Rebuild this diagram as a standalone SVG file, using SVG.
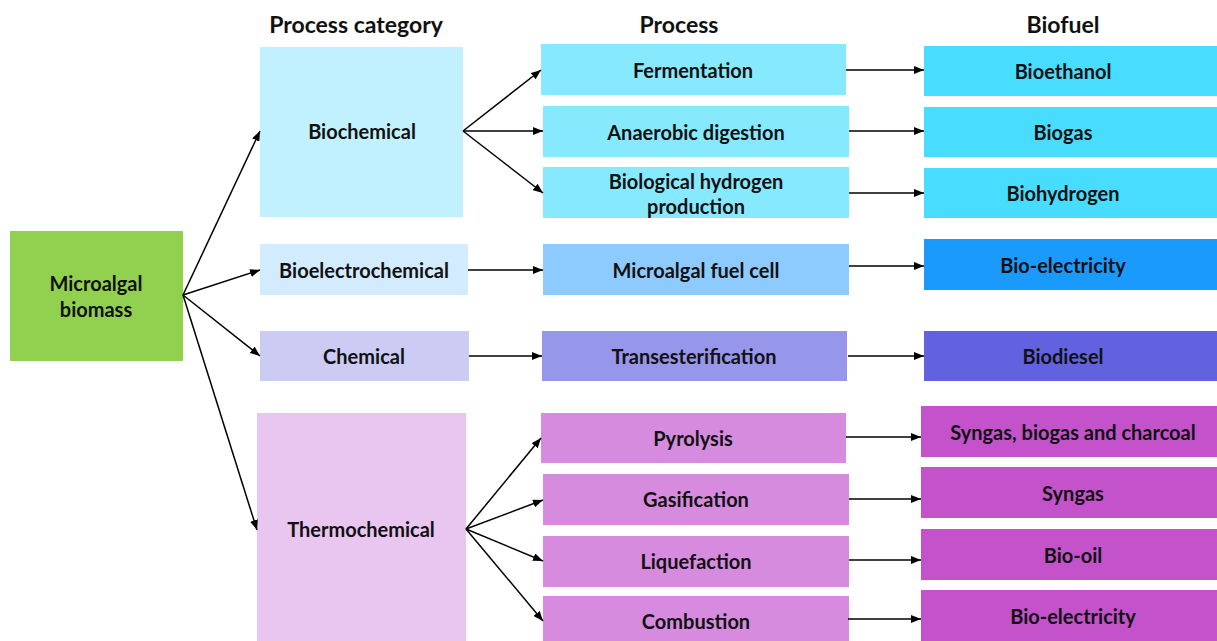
<svg xmlns="http://www.w3.org/2000/svg" width="1217" height="641" viewBox="0 0 1217 641">
  <style>
    text { font-family: Lato, "Liberation Sans", sans-serif; font-weight: bold; fill: #111; text-anchor: middle; dominant-baseline: central; }
    .hdr { font-size: 23px; }
    .lbl { font-size: 20px; }
    .cn line { stroke: #000; stroke-width: 1.5; marker-end: url(#arr); }
  </style>
  <defs>
    <marker id="arr" viewBox="0 0 10 8" refX="10" refY="4" markerWidth="10" markerHeight="8" markerUnits="userSpaceOnUse" orient="auto">
      <path d="M0,0 L10,4 L0,8 z" fill="#000"/>
    </marker>
  </defs>
  <rect width="1217" height="641" fill="#fff"/>

  <!-- column headings -->
  <text class="hdr" x="356" y="24">Process category</text>
  <text class="hdr" x="679" y="24">Process</text>
  <text class="hdr" x="1063" y="24">Biofuel</text>

  <!-- source -->
  <g id="biomass"><rect x="10" y="231" width="173" height="130" fill="#92D050"/><text class="lbl" x="96" y="283">Microalgal</text><text class="lbl" x="96" y="309">biomass</text></g>

  <!-- process categories -->
  <g id="biochemical"><rect x="260" y="47" width="203" height="170" fill="#C1F1FE"/><text class="lbl" x="362" y="131">Biochemical</text></g>
  <g id="bioelectrochemical"><rect x="260" y="244" width="208" height="51" fill="#D2EBFF"/><text class="lbl" x="364" y="270">Bioelectrochemical</text></g>
  <g id="chemical"><rect x="260" y="331" width="209" height="50" fill="#CBCBF3"/><text class="lbl" x="364" y="356">Chemical</text></g>
  <g id="thermochemical"><rect x="257" y="413" width="209" height="228" fill="#E9C6EF"/><text class="lbl" x="361" y="529">Thermochemical</text></g>

  <!-- processes -->
  <g id="fermentation"><rect x="541" y="44" width="305" height="51" fill="#87E9FE"/><text class="lbl" x="693" y="70">Fermentation</text></g>
  <g id="anaerobic"><rect x="543" y="106" width="306" height="51" fill="#87E9FE"/><text class="lbl" x="696" y="132">Anaerobic digestion</text></g>
  <g id="biohydrogen-production"><rect x="543" y="167" width="306" height="51" fill="#87E9FE"/><text class="lbl" x="696" y="181">Biological hydrogen</text><text class="lbl" x="696" y="206">production</text></g>
  <g id="fuel-cell"><rect x="543" y="244" width="306" height="51" fill="#8DCBFE"/><text class="lbl" x="696" y="270">Microalgal fuel cell</text></g>
  <g id="transesterification"><rect x="542" y="331" width="305" height="50" fill="#9696EA"/><text class="lbl" x="694" y="356">Transesterification</text></g>
  <g id="pyrolysis"><rect x="541" y="413" width="305" height="50" fill="#D68BDF"/><text class="lbl" x="693" y="438">Pyrolysis</text></g>
  <g id="gasification"><rect x="543" y="474" width="306" height="51" fill="#D68BDF"/><text class="lbl" x="696" y="499">Gasification</text></g>
  <g id="liquefaction"><rect x="543" y="536" width="306" height="51" fill="#D68BDF"/><text class="lbl" x="696" y="561">Liquefaction</text></g>
  <g id="combustion"><rect x="543" y="596" width="306" height="45" fill="#D68BDF"/><text class="lbl" x="696" y="621">Combustion</text></g>

  <!-- biofuels -->
  <g id="bioethanol"><rect x="924" y="46" width="293" height="50" fill="#48DCFE"/><text class="lbl" x="1063" y="71">Bioethanol</text></g>
  <g id="biogas"><rect x="924" y="107" width="293" height="50" fill="#48DCFE"/><text class="lbl" x="1063" y="132">Biogas</text></g>
  <g id="biohydrogen"><rect x="924" y="168" width="293" height="50" fill="#48DCFE"/><text class="lbl" x="1063" y="193">Biohydrogen</text></g>
  <g id="bioelectricity-1"><rect x="924" y="239" width="293" height="51" fill="#1B9AFE"/><text class="lbl" x="1063" y="265">Bio-electricity</text></g>
  <g id="biodiesel"><rect x="924" y="331" width="293" height="50" fill="#6262E0"/><text class="lbl" x="1063" y="356">Biodiesel</text></g>
  <g id="syngas-mix"><rect x="921" y="406" width="296" height="51" fill="#C352CB"/><text class="lbl" x="1073" y="432">Syngas, biogas and charcoal</text></g>
  <g id="syngas"><rect x="921" y="467" width="296" height="51" fill="#C352CB"/><text class="lbl" x="1073" y="493">Syngas</text></g>
  <g id="bio-oil"><rect x="921" y="529" width="296" height="51" fill="#C352CB"/><text class="lbl" x="1073" y="555">Bio-oil</text></g>
  <g id="bioelectricity-2"><rect x="921" y="590" width="296" height="51" fill="#C352CB"/><text class="lbl" x="1073" y="616">Bio-electricity</text></g>

  <!-- connectors -->
  <g id="connectors" class="cn">
    <line x1="183" y1="295" x2="260" y2="131"/>
    <line x1="183" y1="295" x2="260" y2="270"/>
    <line x1="183" y1="295" x2="260" y2="356"/>
    <line x1="183" y1="295" x2="257" y2="530"/>

    <line x1="463" y1="131" x2="541" y2="70"/>
    <line x1="463" y1="131" x2="543" y2="131"/>
    <line x1="463" y1="131" x2="543" y2="193"/>
    <line x1="468" y1="270" x2="543" y2="270"/>
    <line x1="469" y1="356" x2="542" y2="356"/>
    <line x1="466" y1="529" x2="541" y2="438"/>
    <line x1="466" y1="529" x2="543" y2="500"/>
    <line x1="466" y1="529" x2="543" y2="561"/>
    <line x1="466" y1="529" x2="543" y2="621"/>

    <line x1="846" y1="70" x2="924" y2="70"/>
    <line x1="849" y1="131" x2="924" y2="131"/>
    <line x1="849" y1="193" x2="924" y2="193"/>
    <line x1="849" y1="266" x2="924" y2="266"/>
    <line x1="848" y1="356" x2="924" y2="356"/>
    <line x1="846" y1="437" x2="921" y2="437"/>
    <line x1="849" y1="499" x2="921" y2="499"/>
    <line x1="849" y1="560" x2="921" y2="560"/>
    <line x1="848" y1="619" x2="921" y2="619"/>
  </g>
</svg>
